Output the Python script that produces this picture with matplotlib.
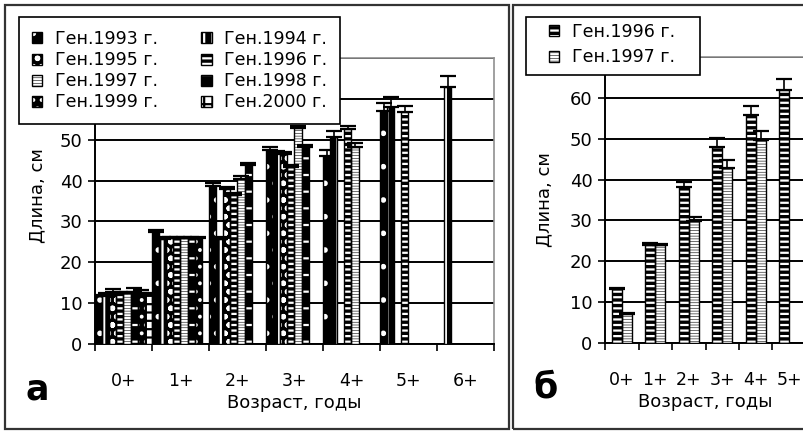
import numpy as np
import matplotlib

matplotlib.use("Agg")
from matplotlib import pyplot as plt
from matplotlib.patches import Rectangle, Patch

plt.rcParams["font.family"] = ["DejaVu Sans"]
plt.rcParams["hatch.linewidth"] = 1.6

# panel a: mean length by age for generations 1993-2000
ages_a = ["0+", "1+", "2+", "3+", "4+", "5+", "6+"]
gen_years_a = ["1993", "1994", "1995", "1996", "1997", "1998", "1999", "2000"]
len_1993 = [11.7, 27.4, 38.7, 47.5, 46.0, 57.1, None]
len_1994 = [12.3, 25.8, 25.8, 46.9, 50.7, 57.9, 63.0]
len_1995 = [12.7, 26.0, 38.0, 46.6, None, None, None]
len_1996 = [12.5, 26.0, 36.5, 43.4, 52.6, 56.7, None]
len_1997 = [12.5, 26.0, 40.5, 52.8, 48.3, None, None]
len_1998 = [12.8, 26.0, 43.7, 48.1, None, None, None]
len_1999 = [12.6, 26.0, None, None, None, None, None]
len_2000 = [12.2, None, None, None, None, None, None]
err_1993 = [0.3, 0.5, 0.6, 0.7, 1.6, 1.9, None]
err_1994 = [0.3, 0.3, 0.3, 0.3, 1.5, 2.6, 2.5]
err_1995 = [0.8, 0.2, 0.5, 0.3, None, None, None]
err_1996 = [0.3, 0.2, 0.4, 0.3, 0.8, 1.6, None]
err_1997 = [0.3, 0.2, 0.7, 0.6, 1.0, None, None]
err_1998 = [0.8, 0.2, 0.6, 0.6, None, None, None]
err_1999 = [0.6, 0.2, None, None, None, None, None]
err_2000 = [0.3, None, None, None, None, None, None]

# panel b: generations 1996 and 1997
ages_b = ["0+", "1+", "2+", "3+", "4+", "5+"]
len_b_1996 = [13.3, 24.1, 38.1, 48.0, 55.9, 62.0]
len_b_1997 = [7.2, 23.9, 29.8, 42.8, 49.7, None]
err_b_1996 = [0.2, 0.3, 1.2, 2.1, 2.2, 2.6]
err_b_1997 = [0.2, 0.3, 1.1, 2.0, 2.2, None]

series_a = [len_1993, len_1994, len_1995, len_1996,
            len_1997, len_1998, len_1999, len_2000]
errors_a = [err_1993, err_1994, err_1995, err_1996,
            err_1997, err_1998, err_1999, err_2000]

# (face, hatch colour, hatch) per generation
styles = {
    "1993": ("black", "white", "."),
    "1994": ("black", "white", "||"),
    "1995": ("black", "white", "oo"),
    "1996": ("black", "white", "---"),
    "1997": ("black", "white", "------"),
    "1998": ("black", "white", "-"),
    "1999": ("black", "white", ".."),
    "2000": ("white", "black", "++"),
}


def draw_bars(ax, x, vals, errs, width, year):
    face, hcol, hatch = styles[year]
    xs = np.array([xi for xi, v in zip(x, vals) if v is not None])
    hs = np.array([v for v in vals if v is not None])
    es = np.array([e for v, e in zip(vals, errs) if v is not None])
    fill = ax.bar(xs, hs, width, align="edge", color=face, edgecolor=hcol,
                  hatch=hatch, linewidth=0, zorder=3)
    ax.bar(xs, hs, width, align="edge", fill=False, edgecolor="black",
           linewidth=1.0, zorder=4)
    ax.errorbar(xs + width / 2, hs, yerr=[np.zeros_like(es), es], fmt="none",
                ecolor="black", elinewidth=1.2, capsize=5.5, capthick=1.6,
                zorder=5)
    outline = Patch(facecolor="none", edgecolor="black", linewidth=1.0)
    return (fill.patches[0], outline)


def style_axes(ax, n_cat, labels, hidden):
    ax.set_xlim(0, n_cat)
    ax.set_ylim(0, 70)
    yt = list(range(0, 71, 10))
    ax.set_yticks(yt)
    # labels under the legend are covered in the original
    ax.set_yticklabels(["" if v in hidden else str(v) for v in yt])
    ax.grid(axis="y", color="black", linewidth=1.4, zorder=1)
    ax.set_axisbelow(True)
    ax.set_xticks(range(0, n_cat + 1))
    ax.set_xticklabels([])
    ax.set_xticks(np.arange(n_cat) + 0.5, minor=True)
    ax.set_xticklabels(labels, minor=True)
    ax.tick_params(axis="x", which="major", direction="out", length=5,
                   width=1.2)
    ax.tick_params(axis="x", which="minor", length=0, pad=20, labelsize=12.5)
    ax.tick_params(axis="y", direction="out", length=5, width=1.2,
                   labelsize=13, pad=4)
    for side in ("top", "right"):
        ax.spines[side].set_color("#909090")
        ax.spines[side].set_linewidth(1.2)
    for side in ("left", "bottom"):
        ax.spines[side].set_linewidth(1.4)
    ax.set_xlabel("Возраст, годы", fontsize=13, labelpad=3)
    ax.set_ylabel("Длина, см", fontsize=13)


fig = plt.figure(figsize=(8.04, 4.32), dpi=100)
W, H = 804, 432

ax_a = fig.add_axes([95 / W, 1 - 344 / H, 399 / W, 286 / H])
ax_b = fig.add_axes([605 / W, 1 - 343 / H, 201 / W, 286 / H])

handles_a = []
slot = 1 / 8
for k, (year, vals, errs) in enumerate(zip(gen_years_a, series_a, errors_a)):
    x = [i + k * slot for i in range(len(ages_a))]
    handles_a.append(draw_bars(ax_a, x, vals, errs, slot, year))
style_axes(ax_a, len(ages_a), ages_a, hidden=(60, 70))
ax_a.yaxis.set_label_coords(-0.122, 0.52)

handles_b = []
for k, (year, vals, errs) in enumerate(zip(["1996", "1997"],
                                           [len_b_1996, len_b_1997],
                                           [err_b_1996, err_b_1997])):
    x = [i + 0.2 + k * 0.3 for i in range(len(ages_b))]
    handles_b.append(draw_bars(ax_b, x, vals, errs, 0.3, year))
style_axes(ax_b, 6, ages_b, hidden=(70,))
ax_b.yaxis.set_label_coords(-0.255, 0.5)

# legend is filled row by row in the original
order = [0, 2, 4, 6, 1, 3, 5, 7]
labels_a = [f"Ген.{y} г." for y in gen_years_a]
leg_a = fig.legend([handles_a[i] for i in order], [labels_a[i] for i in order],
                   ncol=2, loc="upper left",
                   bbox_to_anchor=(19 / W, 1 - 17 / H),
                   bbox_transform=fig.transFigure, borderaxespad=0,
                   fontsize=12.5, frameon=True, fancybox=False,
                   edgecolor="black", framealpha=1, handlelength=0.6,
                   handleheight=0.6, handletextpad=0.7, columnspacing=2.5,
                   labelspacing=0.18, borderpad=0.75)
leg_a.get_frame().set_linewidth(1.2)
leg_a.set_zorder(10)

# panel b legend: box drawn separately, entries placed inside it
fig.add_artist(Rectangle((526 / W, 1 - 75 / H), 174 / W, 58 / H,
                         facecolor="white", edgecolor="black", linewidth=1.2,
                         transform=fig.transFigure, zorder=9))
leg_b = fig.legend(handles_b, ["Ген.1996 г.", "Ген.1997 г."],
                   loc="upper left", bbox_to_anchor=(549 / W, 1 - 23 / H),
                   bbox_transform=fig.transFigure, borderaxespad=0,
                   fontsize=12.5, frameon=False, handlelength=0.6,
                   handleheight=0.6, handletextpad=0.7, labelspacing=0.42,
                   borderpad=0)
leg_b.set_zorder(10)

# panel frames
fig.add_artist(Rectangle((5 / W, 3 / H), 504 / W, 424 / H, fill=False,
                         edgecolor="#333333", linewidth=1.6,
                         transform=fig.transFigure))
fig.add_artist(Rectangle((513 / W, 3 / H), 300 / W, 424 / H, fill=False,
                         edgecolor="#333333", linewidth=1.6,
                         transform=fig.transFigure))

fig.text(37 / W, 1 - 390 / H, "а", fontsize=25, fontweight="bold",
         ha="center", va="center")
fig.text(546 / W, 1 - 388 / H, "б", fontsize=25, fontweight="bold",
         ha="center", va="center")

fig.savefig("out.png", dpi=100)
